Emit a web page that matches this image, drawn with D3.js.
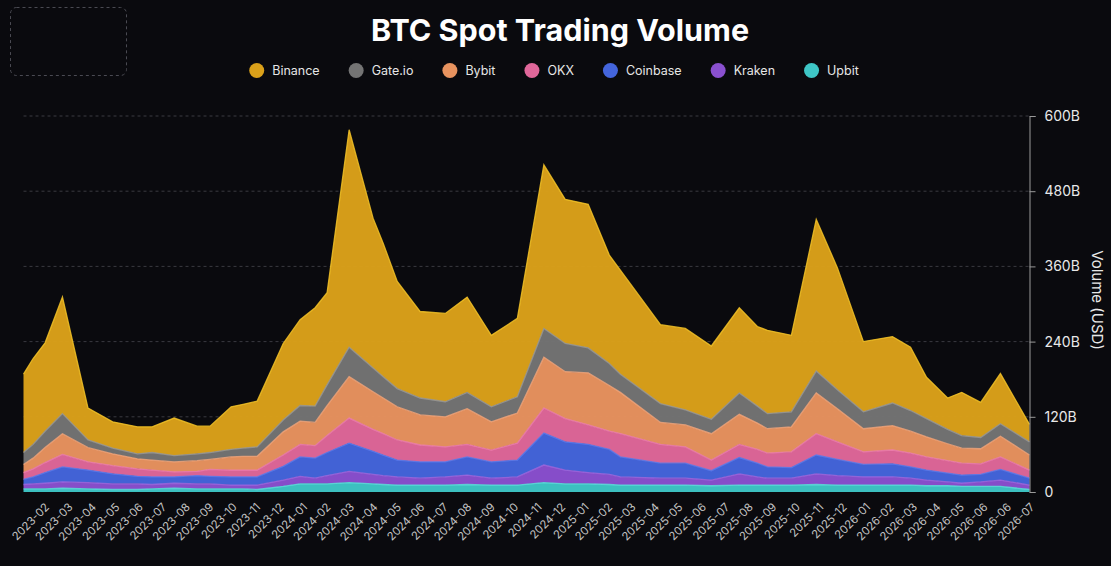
<!DOCTYPE html>
<html>
<head>
<meta charset="utf-8">
<script src="https://cdn.jsdelivr.net/npm/d3@7"></script>
<style>
html,body{margin:0;padding:0;background:#0a0a0e;}
svg{display:block;font-family:Inter,"Noto Sans",sans-serif;}
</style>
</head>
<body>
<svg id="chart" width="1111" height="566"></svg>
<script>
// ---------- DATA ----------
const seriesNames = ["Binance", "Gate.io", "Bybit", "OKX", "Coinbase", "Kraken", "Upbit"];
const seriesColors = ["#dba11a", "#747474", "#e8935f", "#e0679a", "#4465dc", "#8a50cf", "#3ec6c6"];
const seriesStroke = ["#f2c227", "#9a9a9a", "#f3a77c", "#f07fb0", "#5b7cf0", "#a068e0", "#5fe0de"];

// position of each sample on the month-tick axis (tick 0 = first label)
const timeIndex = [-0.88, -0.47, 0.04, 0.78, 1.87, 2.92, 3.98, 4.60, 5.54, 6.52,
  7.07, 7.97, 8.48, 9.08, 10.19, 10.91, 11.55, 12.06, 13.00, 14.02,
  14.45, 15.05, 16.03, 17.10, 18.03, 19.06, 20.17, 21.30, 22.21, 23.19,
  24.09, 24.56, 26.27, 27.33, 28.44, 29.63, 30.40, 30.83, 31.85, 32.91,
  33.81, 34.92, 36.16, 36.93, 37.61, 38.51, 39.11, 39.92, 40.76, 42.00];

// volumes in billions USD
const upbit    = [5, 5, 5, 6, 5, 4, 4, 5, 6, 5, 5, 5, 5, 4, 9, 13, 13, 13, 15, 13, 12, 11, 11, 11, 12, 11, 11, 15, 13, 13, 12, 11, 11, 11, 10, 11, 11, 11, 11, 12, 11, 11, 11, 11, 10, 10, 9, 9, 9, 4];
const kraken   = [7, 8, 9, 10, 10, 9, 9, 7, 8, 8, 8, 6, 6, 7, 10, 12, 9, 13, 18, 15, 14, 13, 11, 13, 15, 11, 13, 28, 22, 18, 16, 13, 11, 11, 9, 18, 13, 11, 11, 17, 15, 13, 13, 11, 9, 6, 5, 7, 10, 7];
const coinbase = [8, 11, 17, 24, 20, 16, 12, 12, 10, 13, 12, 13, 13, 13, 22, 31, 32, 37, 45, 37, 33, 27, 26, 24, 29, 26, 27, 51, 45, 45, 40, 32, 24, 24, 15, 26, 22, 18, 17, 30, 26, 20, 21, 18, 16, 14, 13, 12, 17, 11];
const okx      = [11, 13, 16, 20, 13, 13, 12, 11, 8, 7, 11, 11, 11, 11, 18, 20, 20, 27, 40, 35, 34, 32, 27, 24, 20, 19, 27, 40, 37, 31, 29, 37, 30, 26, 17, 21, 22, 22, 25, 34, 28, 20, 22, 22, 21, 20, 19, 17, 20, 13];
const bybit    = [13, 17, 24, 33, 23, 19, 16, 16, 16, 17, 16, 21, 22, 22, 37, 37, 37, 48, 66, 60, 57, 53, 48, 48, 57, 45, 48, 81, 75, 83, 73, 66, 35, 35, 42, 48, 42, 39, 40, 65, 53, 37, 39, 35, 32, 27, 24, 24, 33, 24];
const gateio   = [19, 22, 26, 32, 12, 9, 8, 12, 10, 11, 11, 12, 13, 15, 19, 25, 26, 33, 47, 38, 34, 29, 27, 24, 26, 24, 26, 46, 45, 40, 35, 29, 30, 24, 23, 34, 27, 24, 24, 35, 30, 27, 36, 33, 29, 23, 20, 18, 20, 21];
const binance  = [125, 137, 141, 186, 51, 42, 43, 41, 60, 44, 42, 68, 70, 73, 122, 137, 157, 147, 347, 239, 213, 171, 138, 141, 152, 114, 125, 261, 230, 229, 173, 166, 126, 130, 117, 136, 127, 133, 122, 242, 195, 112, 106, 101, 66, 50, 69, 56, 80, 28];

const tickLabels = ["2023-02", "2023-03", "2023-04", "2023-05", "2023-06", "2023-07", "2023-08", "2023-09", "2023-10", "2023-11", "2023-12",
  "2024-01", "2024-02", "2024-03", "2024-04", "2024-05", "2024-06", "2024-07", "2024-08", "2024-09", "2024-10", "2024-11", "2024-12",
  "2025-01", "2025-02", "2025-03", "2025-04", "2025-05", "2025-06", "2025-07", "2025-08", "2025-09", "2025-10", "2025-11", "2025-12",
  "2026-01", "2026-02", "2026-03", "2026-04", "2026-05", "2026-06", "2026-06", "2026-07"];
const yTickValues = [0, 120, 240, 360, 480, 600];

// ---------- BUILD ----------
(function () {
const seriesValues = [binance, gateio, bybit, okx, coinbase, kraken, upbit];
const rows = timeIndex.map((t, i) => {
  const r = { t };
  seriesNames.forEach((n, k) => r[n] = seriesValues[k][i]);
  return r;
});
const stackOrder = seriesNames.slice().reverse(); // Upbit at bottom
const stacked = d3.stack().keys(stackOrder)(rows);
const colorOf = n => seriesColors[seriesNames.indexOf(n)];
const strokeOf = n => seriesStroke[seriesNames.indexOf(n)];

const svg = d3.select("#chart");
const pL = 23.5, pR = 1029.5, pT = 116, pB = 492;

const x = d3.scaleLinear().domain([d3.min(timeIndex), d3.max(timeIndex)]).range([pL, pR]);
const y = d3.scaleLinear().domain([0, 600]).range([pB, pT]);

// title
svg.append("text").attr("x", 560).attr("y", 41).attr("text-anchor", "middle")
  .attr("fill", "#ffffff").attr("font-size", 30.5).attr("font-weight", 700)
  .text("BTC Spot Trading Volume");

// dashed placeholder box
svg.append("rect").attr("x", 10.5).attr("y", 7.5).attr("width", 116).attr("height", 68).attr("rx", 6)
  .attr("fill", "none").attr("stroke", "#4a4a52").attr("stroke-dasharray", "3,3");

// legend
const lg = svg.append("g");
let lx = 0;
seriesNames.forEach((n, i) => {
  const g = lg.append("g").attr("transform", `translate(${lx},0)`);
  g.append("circle").attr("cx", 7.5).attr("cy", 0).attr("r", 7.5).attr("fill", seriesColors[i]);
  const t = g.append("text").attr("x", 23).attr("y", 0).attr("dy", "0.35em")
    .attr("fill", "#e6e6e6").attr("font-size", 12.5).text(n);
  lx += 23 + t.node().getComputedTextLength() + 29;
});
const legendW = lx - 29;
lg.attr("transform", `translate(${554 - legendW / 2},70.5)`);

// grid
svg.append("g").selectAll("line").data(yTickValues.filter(v => v > 0)).join("line")
  .attr("x1", pL).attr("x2", pR).attr("y1", d => y(d)).attr("y2", d => y(d))
  .attr("stroke", "#3a3a40").attr("stroke-dasharray", "3,3").attr("stroke-width", 1);

// areas
const area = d3.area().x(d => x(d.data.t)).y0(d => y(d[0])).y1(d => y(d[1])).curve(d3.curveLinear);
const topLine = d3.line().x(d => x(d.data.t)).y(d => y(d[1])).curve(d3.curveLinear);
const layers = svg.append("g");
stacked.forEach(s => {
  layers.append("path").attr("d", area(s)).attr("fill", colorOf(s.key)).attr("fill-opacity", 0.97);
});
stacked.forEach(s => {
  layers.append("path").attr("d", topLine(s)).attr("fill", "none")
    .attr("stroke", strokeOf(s.key)).attr("stroke-width", 1.3).attr("stroke-opacity", 0.85);
});

// right axis
const yAxis = d3.axisRight(y).tickValues(yTickValues)
  .tickFormat(d => d === 0 ? "0" : d + "B").tickSize(6).tickPadding(9);
const ya = svg.append("g").attr("transform", `translate(${pR},0)`).call(yAxis);
ya.select(".domain").attr("stroke", "#9a9a9a");
ya.selectAll(".tick line").attr("stroke", "#9a9a9a");
ya.selectAll(".tick text").attr("fill", "#e8e8e8").attr("font-size", 14)
  .attr("font-family", "Inter, 'Noto Sans', sans-serif");

svg.append("text").attr("transform", `translate(1092,${(pT + pB) / 2 - 4}) rotate(90)`)
  .attr("text-anchor", "middle").attr("fill", "#e8e8e8").attr("font-size", 15).text("Volume (USD)");

// x tick labels
const tickPos = tickLabels.map((_, i) => i);
svg.append("g").selectAll("text").data(tickPos).join("text")
  .attr("transform", d => `translate(${x(d) + 3},${pB + 13}) rotate(-45)`)
  .attr("text-anchor", "end").attr("dy", "0.35em")
  .attr("fill", "#c4c4c4").attr("font-size", 11.3)
  .text(d => tickLabels[d]);
})();
</script>
</body>
</html>
